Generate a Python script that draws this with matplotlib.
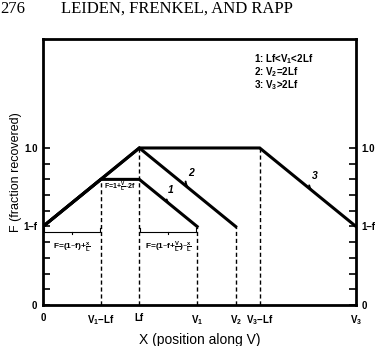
import matplotlib
matplotlib.use("Agg")
import matplotlib.pyplot as plt

# fraction-recovered profiles (f = 0.5, Lf = 1)
curve1_x = [0.0, 0.6, 1.0, 1.6]
curve1_y = [0.5, 0.8, 0.8, 0.5]
curve2_x = [0.0, 1.0, 2.0]
curve2_y = [0.5, 1.0, 0.5]
curve3_x = [0.0, 1.0, 2.25, 3.25]
curve3_y = [0.5, 1.0, 1.0, 0.5]

# dashed guide lines
guide_x = [0.6, 1.0, 1.6, 2.0, 2.25]
guide_top = [0.8, 1.0, 0.5, 0.5, 1.0]

xtick_pos = [0.0, 0.6, 1.0, 1.6, 2.0, 2.25, 3.25]
xtick_labels = ["0", "V$_1$$-$Lf", "Lf", "V$_1$", "V$_2$", "V$_3$$-$Lf", "V$_3$"]
ytick_pos = [0.0, 0.5, 1.0]
ytick_labels = ["0", "1\u2013f", "1.0"]

legend_lines = ["1: Lf<V$_1$<2Lf", "2: V$_2$=2Lf", "3: V$_3$>2Lf"]

plt.rcParams["font.family"] = ["Liberation Sans", "DejaVu Sans"]
plt.rcParams["font.weight"] = "bold"
plt.rcParams["mathtext.default"] = "regular"

fig = plt.figure(figsize=(3.82, 3.46), dpi=100)
ax = fig.add_axes([0.1126, 0.1185, 0.8194, 0.7688])

for xs, ys in [(curve1_x, curve1_y), (curve2_x, curve2_y), (curve3_x, curve3_y)]:
    ax.plot(xs, ys, color="black", lw=2.2, solid_joinstyle="miter")

for gx, gt in zip(guide_x, guide_top):
    ax.plot([gx, gx], [0, gt], color="black", lw=1.0, ls=(0, (3, 2)))

ax.set_xlim(0, 3.25)
ax.set_ylim(0, 1.694)

for s in ax.spines.values():
    s.set_linewidth(2.0)

ax.set_xticks(xtick_pos)
ax.set_xticklabels(xtick_labels, fontsize=7)
ax.tick_params(axis="x", length=0, pad=6)

ax.set_yticks([i / 10 for i in range(11)], minor=True)
ax.set_yticks(ytick_pos)
ax.set_yticklabels(ytick_labels, fontsize=7)
ax.tick_params(axis="y", which="both", direction="in", length=5, width=1.2,
               left=True, right=True, labelright=True, pad=4)

# curve numbers with hooks
numbers = [("1", (1.30, 0.65), (1.33, 0.73)),
           ("2", (1.50, 0.75), (1.54, 0.84)),
           ("3", (2.78, 0.735), (2.82, 0.82))]
for t, xy, xyt in numbers:
    ax.annotate(t, xy=xy, xytext=xyt, fontsize=7.5, style="italic",
                ha="center", va="center",
                arrowprops=dict(arrowstyle="-", lw=1.4, color="black",
                                connectionstyle="arc3,rad=0.5", shrinkA=1, shrinkB=0))

# braces under the 1-f level
brace_y = 0.465
for x0, x1 in [(curve1_x[0], curve1_x[1]), (curve1_x[2], curve1_x[3])]:
    ax.plot([x0 + 0.01, x0 + 0.01, x1 - 0.01, x1 - 0.01],
            [brace_y + 0.025, brace_y, brace_y, brace_y + 0.025], color="black", lw=0.8)
    xm = (x0 + x1) / 2
    ax.plot([xm, xm], [brace_y, brace_y - 0.015], color="black", lw=0.8)

ax.text(0.3, 0.37, "F=(1\u2013f)+$\\frac{x}{L}$", fontsize=6, ha="center", va="center")
ax.text(1.3, 0.37, "F=(1\u2013f+$\\frac{V}{L}$)\u2013$\\frac{x}{L}$", fontsize=6, ha="center", va="center")
ax.text(0.8, 0.755, "F=1+$\\frac{V}{L}$\u20132f", fontsize=5, ha="center", va="center")

for i, line in enumerate(legend_lines):
    ax.text(2.19, 1.567 - i * 0.082, line, fontsize=7, ha="left", va="center")

ax.set_xlabel("X (position along V)", fontsize=10, labelpad=4)
ax.set_ylabel("F (fraction recovered)", fontsize=9, labelpad=1)

fig.text(0.0, 0.975, "276", fontsize=12, family="Liberation Serif", weight="normal",
         ha="left", va="center")
fig.text(0.16, 0.975, "LEIDEN, FRENKEL, AND RAPP", fontsize=12, family="Liberation Serif",
         weight="normal", ha="left", va="center")

fig.savefig("out.png", dpi=100)
